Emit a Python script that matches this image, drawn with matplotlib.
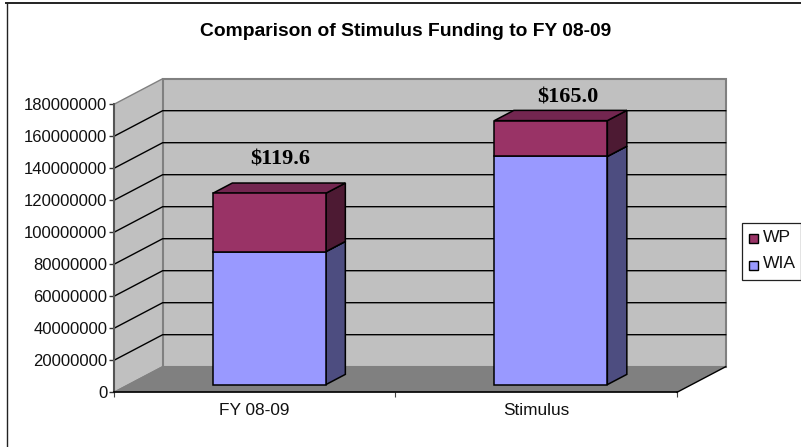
import matplotlib
matplotlib.use("Agg")
import matplotlib.pyplot as plt
from matplotlib.patches import Polygon, Rectangle
from matplotlib.lines import Line2D

categories = ["FY 08-09", "Stimulus"]
wia_values = [83100000, 142600000]
wp_values = [36500000, 22400000]
total_labels = ["$119.6", "$165.0"]
series_names = ["WIA", "WP"]
y_ticks = list(range(0, 180000001, 20000000))

W, H = 801, 447
plt.rcParams["font.family"] = ["Liberation Sans", "DejaVu Sans"]
fig = plt.figure(figsize=(W / 100, H / 100), dpi=100)
fig.patch.set_facecolor("white")

# plot-area geometry in pixels
L, R, B, T = 114.0, 726.7, 392.3, 80.0
ax = fig.add_axes([L / W, 1 - B / H, (R - L) / W, (B - T) / H])
px_x = 281.5              # pixels per category
px_y = 288.0 / 180e6      # pixels per value unit
ax.set_xlim(-0.5, -0.5 + (R - L) / px_x)
ax.set_ylim(0, (B - T) / px_y)
ax.patch.set_visible(False)

DX = 48.7 / px_x          # full depth in x data units
DY = 25.6 / px_y          # full depth in y data units
x0, x1 = -0.5, 1.5
ytop = 180e6


def proj(x, y, d):
    return (x + d * DX, y + d * DY)


def face(pts, fc, ec="none", lw=0.0, z=1):
    ax.add_patch(Polygon(pts, closed=True, fc=fc, ec=ec, lw=lw, zorder=z, joinstyle="miter", clip_on=False))


wall = "#c0c0c0"
edge = "#808080"
# floor, side wall, back wall
face([proj(x0, 0, 0), proj(x1, 0, 0), proj(x1, 0, 1), proj(x0, 0, 1)], "#808080", z=1)
face([proj(x0, 0, 0), proj(x0, 0, 1), proj(x0, ytop, 1), proj(x0, ytop, 0)], wall, edge, 1.0, z=1)
face([proj(x0, 0, 1), proj(x1, 0, 1), proj(x1, ytop, 1), proj(x0, ytop, 1)], wall, edge, 1.5, z=1)
ax.plot(*zip(proj(x0, 0, 0), proj(x0, 0, 1)), color="#808080", lw=1, zorder=2)
ax.plot(*zip(proj(x1, 0, 0), proj(x1, 0, 1)), color="black", lw=1, zorder=2, clip_on=False)

# gridlines
for v in y_ticks[1:-1]:
    ax.plot(*zip(proj(x0, v, 0), proj(x0, v, 1), proj(x1, v, 1)), color="black", lw=1.0,
            zorder=2, solid_joinstyle="miter", clip_on=False)

# bars
half = 113.0 / px_x / 2
d0, d1 = 0.3, 0.7
colors = {"WIA": ("#9999ff", "#4d4d80", "#7a7acc"), "WP": ("#993366", "#4d1a33", "#732650")}


def box(xc, y0, y1, cols, z):
    l, r = xc - half, xc + half
    front, side, top = cols
    kw = dict(ec="black", lw=1.1, z=z)
    face([proj(r, y0, d0), proj(r, y0, d1), proj(r, y1, d1), proj(r, y1, d0)], side, **kw)
    face([proj(l, y1, d0), proj(r, y1, d0), proj(r, y1, d1), proj(l, y1, d1)], top, **kw)
    face([proj(l, y0, d0), proj(r, y0, d0), proj(r, y1, d0), proj(l, y1, d0)], front, **kw)


for i in range(len(categories)):
    box(i, 0, wia_values[i], colors["WIA"], 3)
    box(i, wia_values[i], wia_values[i] + wp_values[i], colors["WP"], 4)

# total labels
label_px = [(280, 159), (568, 97.5)]
for txt, (px, py) in zip(total_labels, label_px):
    fig.text(px / W, 1 - py / H, txt, ha="center", va="center", fontsize=16,
             fontweight="bold", family="Liberation Serif", color="black", zorder=6)

# axes
for s in ["top", "right"]:
    ax.spines[s].set_visible(False)
ax.spines["left"].set_bounds(0, ytop)
ax.spines["left"].set_color("#555555")
ax.spines["left"].set_linewidth(1.5)
ax.spines["bottom"].set_bounds(x0, x1)
ax.spines["bottom"].set_color("black")
ax.spines["bottom"].set_linewidth(1.2)
ax.spines["left"].set_zorder(5)
ax.spines["bottom"].set_zorder(5)
ax.set_yticks(y_ticks)
ax.set_yticklabels([str(v) for v in y_ticks], fontsize=12, color="#111111")
ax.tick_params(axis="y", length=3.6, width=1, color="#333333", pad=1.2)
ax.set_xticks([-0.5, 0.5, 1.5])
ax.set_xticklabels([])
ax.tick_params(axis="x", length=3.5, width=0.8, color="#444444")
for i, c in enumerate(categories):
    ax.annotate(c, (i, 0), xycoords=("data", "data"), xytext=(0, -16), textcoords="offset points",
                ha="center", va="baseline", fontsize=12.4, color="#111111", annotation_clip=False)

# title
fig.text(406 / W, 1 - 32 / H, "Comparison of Stimulus Funding to FY 08-09", ha="center", va="center",
         fontsize=13.9, fontweight="bold", color="black")

# frame of chart (left and top edges)
fig.add_artist(Line2D([6.5 / W, 6.5 / W], [0, 1 - 3 / H], color="#222222", lw=1.0))
fig.add_artist(Line2D([6 / W, 1], [1 - 3 / H, 1 - 3 / H], color="#222222", lw=1.4))

# legend
fig.add_artist(Rectangle((742 / W, 1 - 280 / H), 58.5 / W, 57 / H, transform=fig.transFigure,
                         fc="white", ec="#222222", lw=0.9))
for name, ys in zip(["WP", "WIA"], [238, 265]):
    fig.add_artist(Rectangle((749 / W, 1 - (ys + 4.5) / H), 9 / W, 9 / H, transform=fig.transFigure,
                             fc=colors[name][0], ec="black", lw=1.0))
    fig.text(763 / W, 1 - (ys - 1) / H, name, ha="left", va="center", fontsize=12.6, color="#111111")

fig.savefig("out.png", dpi=100)
